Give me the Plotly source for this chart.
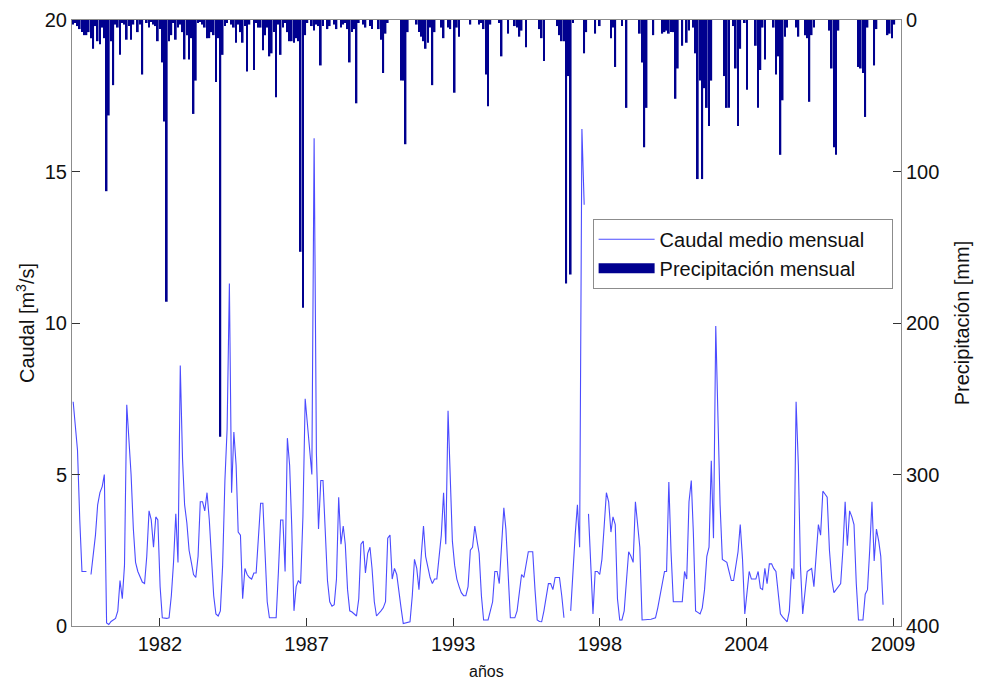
import pandas as pd
import plotly.graph_objects as go

# Monthly dates (Jan 1979 - Sep 2009)
fechas = pd.date_range("1979-01-01", periods=369, freq="MS")

# Mean monthly flow [m3/s], one row per year
caudal = (
    [7.4, 6.5, 5.8, 3.5, 1.8, 1.8, 1.8, None, 1.7, 2.3, 3.0, 4.0]            # 1979
    + [4.4, 4.6, 5.0, 0.1, 0.05, 0.15, 0.2, 0.25, 0.5, 1.5, 0.9, 2.0]        # 1980
    + [7.3, 6.2, 5.0, 3.2, 2.1, 1.8, 1.6, 1.45, 1.4, 2.3, 3.8, 3.5]          # 1981
    + [2.6, 3.6, 3.5, 1.3, 0.27, 0.25, 0.25, 0.27, 1.0, 2.1, 3.7, 2.1]       # 1982
    + [8.6, 5.5, 4.0, 3.4, 2.5, 2.1, 1.7, 1.6, 2.3, 4.1, 4.1, 3.8]           # 1983
    + [4.4, 3.5, 2.1, 1.0, 0.4, 0.33, 0.5, 2.0, 4.8, 6.5, 11.3, 4.4]         # 1984
    + [6.4, 5.3, 3.1, 3.0, 0.9, 1.9, 1.7, 1.6, 1.55, 1.75, 1.75, 2.8]        # 1985
    + [4.05, 4.05, 2.3, 0.8, 0.27, 0.27, 0.27, 0.27, 1.8, 3.5, 3.5, 1.8]     # 1986
    + [6.2, 5.3, 3.35, 0.5, 1.3, 1.5, 1.4, 3.6, 7.5, 6.7, 6.0, 5.0]          # 1987
    + [16.1, 5.7, 3.2, 4.8, 4.8, 3.0, 1.5, 0.8, 0.65, 0.7, 1.55, 4.25]       # 1988
    + [2.7, 3.3, 2.7, 1.2, 0.5, 0.46, 0.4, 0.33, 0.9, 2.7, 2.8, 1.75]        # 1989
    + [2.4, 2.6, 1.9, 0.8, 0.33, 0.4, 0.5, 0.6, 0.8, 2.9, 3.0, 1.55]         # 1990
    + [1.9, 1.7, 1.1, 0.6, 0.08, 0.1, 0.12, 0.14, 1.0, 2.2, 1.9, 1.2]        # 1991
    + [2.3, 3.3, 2.3, 1.9, 1.6, 1.4, 1.55, 1.55, 2.2, 3.0, 4.4, 2.7]         # 1992
    + [7.1, 5.1, 2.8, 2.0, 1.55, 1.3, 1.1, 1.0, 1.0, 1.3, 2.5, 2.6]          # 1993
    + [3.3, 2.8, 2.4, 1.0, 0.2, 0.2, 0.2, 0.5, 0.8, 1.8, 1.8, 1.4]           # 1994
    + [2.7, 3.9, 3.2, 1.55, 0.27, 0.27, 0.27, 0.5, 1.2, 1.7, 1.6, 2.0]       # 1995
    + [2.45, 2.45, 2.45, 1.2, 0.2, 0.15, 0.14, 0.5, 1.0, 1.4, 1.4, 1.2]      # 1996
    + [1.6, 1.6, 1.6, 1.0, 0.27, None, None, 0.5, 2.0, 3.0, 4.0, 2.6]        # 1997
    + [16.4, 13.9, None, 3.7, 2.0, 0.4, 1.8, 1.8, 1.7, 2.2, 3.3, 4.4]        # 1998
    + [4.1, 3.1, 3.6, 3.35, 0.9, 0.2, 0.2, 0.5, 1.5, 2.45, 2.3, 2.1]         # 1999
    + [4.1, 3.3, 2.6, 0.2, 0.2, 0.2, 0.2, 0.22, 0.25, 0.27, 0.6, 1.0]        # 2000
    + [1.4, 1.8, 1.8, 4.75, 2.45, 0.8, 0.8, 0.8, 0.8, 0.8, 1.8, 1.55]        # 2001
    + [4.1, 4.8, 3.1, 0.5, 0.45, 0.4, 0.6, 1.2, 2.3, 2.6, 5.45, 2.9]         # 2002
    + [9.9, 7.2, 4.0, 2.2, 2.15, 2.1, 1.8, 1.5, 1.5, 2.0, 2.45, 3.35]        # 2003
    + [2.2, 0.4, 1.2, 1.8, 1.55, 1.55, 1.55, 1.8, 1.25, 1.2, 1.9, 1.4]       # 2004
    + [2.05, 2.05, 1.9, 1.8, 1.2, 0.4, 0.3, 0.2, 0.14, 0.5, 1.9, 1.55]       # 2005
    + [7.4, 5.3, 2.0, 0.4, 1.0, 1.8, 1.85, 1.9, 1.3, 2.5, 3.35, 3.0]         # 2006
    + [4.45, 4.35, 4.25, 2.5, 1.55, 1.1, 1.2, 1.3, 1.4, 2.5, 4.1, 2.65]      # 2007
    + [3.8, 3.6, 3.35, 1.4, 0.2, 0.2, 0.2, 1.05, 1.2, 2.5, 4.1, 2.15]        # 2008
    + [3.2, 2.8, 2.3, 0.7, None, None, None, None, None]                      # 2009
)

# Monthly precipitation [mm]
precip = (
    [3, 2, 4, 6, 8, 10, 10, 8, 12, 19, 4, 14]          # 1979
    + [16, 5, 12, 113, 63, 14, 43, 3, 5, 23, 2, 3]     # 1980
    + [13, 4, 13, 3, 0, 8, 3, 36, 0, 2, 5, 1]          # 1981
    + [3, 4, 14, 6, 28, 67, 186, 14, 10, 2, 13, 5]     # 1982
    + [3, 8, 26, 10, 26, 12, 62, 40, 2, 1, 3, 5]       # 1983
    + [12, 12, 8, 10, 41, 12, 275, 23, 4, 2, 0, 3]     # 1984
    + [5, 15, 3, 8, 15, 4, 34, 3, 0, 33, 2, 5]         # 1985
    + [5, 20, 10, 5, 24, 22, 8, 51, 3, 23, 5, 2]       # 1986
    + [8, 14, 14, 15, 12, 14, 153, 190, 10, 2, 0, 4]   # 1987
    + [7, 3, 4, 30, 4, 0, 6, 4, 0, 3, 6, 0]            # 1988
    + [5, 3, 2, 6, 28, 8, 6, 55, 2, 0, 3, 5]           # 1989
    + [0, 4, 6, 0, 0, 6, 13, 35, 9, 2, 0, 0]           # 1990
    + [0, 0, 0, 40, 40, 82, 8, 0, 0, 0, 3, 8]          # 1991
    + [11, 14, 19, 15, 5, 43, 8, 0, 0, 5, 12, 0]       # 1992
    + [5, 6, 0, 48, 5, 11, 0, 0, 0, 0, 3, 0]           # 1993
    + [0, 0, 3, 2, 6, 36, 57, 3, 0, 0, 0, 2]           # 1994
    + [24, 0, 0, 9, 0, 0, 4, 5, 11, 7, 0, 18]          # 1995
    + [0, 0, 0, 0, 0, 6, 12, 27, 0, 0, 0, 0]           # 1996
    + [0, 4, 10, 14, 14, 174, 37, 168, 2, 0, 0, 0]     # 1997
    + [0, 22, 8, 0, 0, 0, 9, 0, 4, 0, 0, 0]            # 1998
    + [0, 12, 5, 31, 0, 0, 4, 0, 58, 0, 0, 0]          # 1999
    + [0, 0, 9, 28, 84, 58, 0, 0, 10, 0, 0, 0]         # 2000
    + [9, 8, 7, 9, 8, 8, 52, 32, 0, 17, 0, 15]         # 2001
    + [7, 0, 5, 22, 105, 40, 105, 45, 58, 70, 40, 0]   # 2002
    + [0, 0, 0, 0, 37, 58, 58, 0, 4, 32, 70, 19]       # 2003
    + [0, 2, 46, 0, 0, 0, 17, 58, 33, 5, 26, 0]        # 2004
    + [0, 0, 5, 36, 24, 89, 53, 11, 5, 0, 0, 0]        # 2005
    + [5, 11, 0, 0, 10, 12, 54, 10, 5, 0, 0, 0]        # 2006
    + [0, 0, 0, 7, 32, 84, 89, 7, 0, 0, 0, 0]          # 2007
    + [0, 0, 0, 0, 31, 32, 35, 64, 5, 0, 0, 30]        # 2008
    + [6, 0, 0, 0, 0, 10, 9, 12, 3]                    # 2009
)

tick_fechas = ["1982-03-30", "1987-09-20", "1993-03-12", "1998-09-02", "2004-02-23", "2009-08-15"]
tick_textos = ["1982", "1987", "1993", "1998", "2004", "2009"]
ticks_caudal = [0, 5, 10, 15, 20]
ticks_precip = [0, 100, 200, 300, 400]

color_linea = "#4b4bff"
color_barras = "#00008f"

fig = go.Figure()
fig.add_trace(go.Scatter(
    x=fechas, y=caudal, mode="lines", connectgaps=False,
    line=dict(color=color_linea, width=1.1),
    name="Caudal medio mensual\u00a0\u00a0\u00a0\u00a0",
))
fig.add_trace(go.Bar(
    x=fechas, y=precip, yaxis="y2",
    marker=dict(color=color_barras, line=dict(width=0)),
    name="Precipitación mensual", showlegend=False,
))
# legend swatch for the bars (wide filled rectangle as in the original legend)
fig.add_trace(go.Scatter(
    x=[None], y=[None], yaxis="y2", mode="lines",
    line=dict(color=color_barras, width=10),
    name="Precipitación mensual", hoverinfo="skip",
))

axis_common = dict(showgrid=False, zeroline=False, showline=True, linecolor="#8c8c8c",
                   linewidth=1, ticks="inside", ticklen=8, tickcolor="#333333",
                   automargin=False)

fig.update_layout(
    width=981, height=682,
    margin=dict(l=72, r=80, t=20, b=56),
    paper_bgcolor="white", plot_bgcolor="white",
    font=dict(family="Liberation Sans, Arial, sans-serif", size=20, color="#111111"),
    bargap=0.15,
    showlegend=True,
    xaxis=dict(type="date", range=["1978-12-16", "2009-12-02"],
               tickvals=tick_fechas, ticktext=tick_textos, mirror=True,
               **axis_common),
    yaxis=dict(range=[0, 20], tickvals=ticks_caudal,
               title=dict(text="Caudal [m<sup>3</sup>/s]", font=dict(size=20), standoff=4),
               **axis_common),
    yaxis2=dict(range=[400, 0], tickvals=ticks_precip, overlaying="y", side="right",
                title=dict(text="Precipitación [mm]", font=dict(size=20), standoff=16),
                **axis_common),
    legend=dict(x=0.628, y=0.672, xanchor="left", yanchor="top",
                bordercolor="#8c8c8c", borderwidth=1, bgcolor="white",
                font=dict(size=20), itemwidth=56, tracegroupgap=0),
    annotations=[dict(text="años", xref="paper", yref="paper", x=0.5, y=-0.075,
                      xanchor="center", yanchor="middle", showarrow=False,
                      font=dict(size=16))],
)

fig.write_html("out.html")
